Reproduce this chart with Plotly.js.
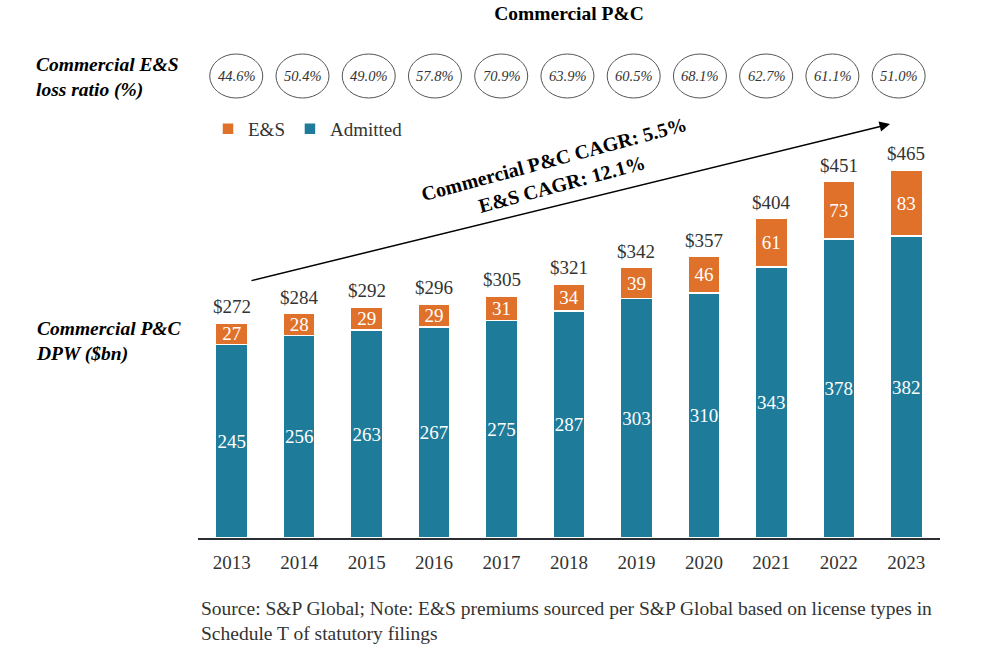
<!DOCTYPE html>
<html>
<head>
<meta charset="utf-8">
<script src="https://cdn.plot.ly/plotly-3.0.1.min.js"></script>
<style>html,body{margin:0;padding:0;background:#fff;}#chart{width:981px;height:649px;}</style>
</head>
<body>
<div id="chart"></div>
<script>
const years = ['2013','2014','2015','2016','2017','2018','2019','2020','2021','2022','2023'];
const admitted = [245, 256, 263, 267, 275, 287, 303, 310, 343, 378, 382];
const es = [27, 28, 29, 29, 31, 34, 39, 46, 61, 73, 83];
const totals = [272, 284, 292, 296, 305, 321, 342, 357, 404, 451, 465];
const lossRatio = ['44.6%','50.4%','49.0%','57.8%','70.9%','63.9%','60.5%','68.1%','62.7%','61.1%','51.0%'];

const FONT = 'Liberation Serif, Times New Roman, serif';
const TEAL = '#1F7B9A';
const ORANGE = '#E0712A';
const GREY = '#333333';

// plot-area geometry (pixels) for placing paper-referenced annotations
const L = 198, R = 41, T = 40, B = 111, W = 981, H = 649;
const px = x => (x - L) / (W - L - R);
const py = y => (H - B - y) / (H - T - B);

const traces = [
  {
    type: 'bar', name: 'Admitted', x: years, y: admitted,
    marker: {color: TEAL, line: {color: '#ffffff', width: 1.5}},
    text: admitted.map(String), textposition: 'inside', insidetextanchor: 'middle',
    textangle: 0, constraintext: 'none',
    insidetextfont: {family: FONT, size: 19, color: '#ffffff'},
    hoverinfo: 'skip'
  },
  {
    type: 'bar', name: 'E&S', x: years, y: es,
    marker: {color: ORANGE, line: {color: '#ffffff', width: 1.5}},
    text: es.map(String), textposition: 'inside', insidetextanchor: 'middle',
    textangle: 0, constraintext: 'none',
    insidetextfont: {family: FONT, size: 19, color: '#ffffff'},
    hoverinfo: 'skip'
  }
];

const annotations = [];
const shapes = [];

// totals above bars
years.forEach((yr, i) => {
  annotations.push({
    x: i, y: admitted[i] + es[i], xref: 'x', yref: 'y',
    text: '$' + totals[i], showarrow: false, xanchor: 'center', yanchor: 'bottom', yshift: 4,
    font: {family: FONT, size: 19, color: GREY}
  });
});

// loss ratio ellipses
lossRatio.forEach((lr, i) => {
  const c = i * 0.982 + 0.067;
  shapes.push({
    type: 'circle', xref: 'x', yref: 'paper',
    x0: c - 0.393, x1: c + 0.393, y0: py(98), y1: py(54),
    line: {color: '#555555', width: 1}, fillcolor: 'rgba(0,0,0,0)'
  });
  annotations.push({
    x: c, y: py(76), xref: 'x', yref: 'paper', text: '<i>' + lr + '</i>',
    showarrow: false, xanchor: 'center', yanchor: 'middle',
    font: {family: FONT, size: 14.5, color: GREY}
  });
});

// left-side labels
annotations.push({
  xref: 'paper', yref: 'paper', x: px(34), y: py(77), xanchor: 'left', yanchor: 'middle',
  text: '<b><i>Commercial E&S<br>loss ratio (%)</i></b>', align: 'left', showarrow: false,
  font: {family: FONT, size: 19.5, color: '#000000'}
});
annotations.push({
  xref: 'paper', yref: 'paper', x: px(34), y: py(341), xanchor: 'left', yanchor: 'middle',
  text: '<b><i>Commercial P&C<br>DPW ($bn)</i></b>', align: 'left', showarrow: false,
  font: {family: FONT, size: 19.5, color: '#000000'}
});

// CAGR arrow
annotations.push({
  xref: 'paper', yref: 'paper', x: px(890), y: py(124),
  ax: 250 - 890, ay: 281 - 124, axref: 'pixel', ayref: 'pixel',
  text: '', showarrow: true, arrowhead: 2, arrowsize: 1.4, arrowwidth: 1.5, arrowcolor: '#000000'
});
annotations.push({
  xref: 'paper', yref: 'paper', x: px(554), y: py(159), xanchor: 'center', yanchor: 'middle',
  text: '<b>Commercial P&C CAGR: 5.5%</b>', textangle: -15, showarrow: false,
  font: {family: FONT, size: 20, color: '#000000'}
});
annotations.push({
  xref: 'paper', yref: 'paper', x: px(562), y: py(184), xanchor: 'center', yanchor: 'middle',
  text: '<b>E&S CAGR: 12.1%</b>', textangle: -15, showarrow: false,
  font: {family: FONT, size: 20, color: '#000000'}
});

// footer note
annotations.push({
  xref: 'paper', yref: 'paper', x: px(199), y: py(621), xanchor: 'left', yanchor: 'middle',
  text: 'Source: S&P Global; Note: E&S premiums sourced per S&P Global based on license types in<br>Schedule T of statutory filings',
  align: 'left', showarrow: false,
  font: {family: FONT, size: 19.5, color: GREY}
});

const layout = {
  width: W, height: H,
  margin: {l: L, r: R, t: T, b: B, pad: 0},
  paper_bgcolor: '#ffffff', plot_bgcolor: '#ffffff',
  barmode: 'stack', bargap: 0.525,
  title: {
    text: '<b>Commercial P&C</b>', x: 569 / W, xref: 'container', xanchor: 'center',
    y: 1 - 13 / H, yref: 'container', yanchor: 'middle',
    font: {family: FONT, size: 19.5, color: '#000000'}
  },
  font: {family: FONT, color: GREY},
  showlegend: true,
  legend: {
    orientation: 'h', traceorder: 'reversed', x: px(208), y: py(129),
    xanchor: 'left', yanchor: 'middle', bgcolor: 'rgba(0,0,0,0)',
    font: {family: FONT, size: 19, color: GREY}
  },
  xaxis: {
    type: 'category', range: [-0.5, 10.5], showgrid: false, zeroline: false,
    showline: true, linecolor: '#2b2f33', linewidth: 2, ticks: '',
    tickfont: {family: FONT, size: 19, color: GREY}, ticklabelstandoff: 6, fixedrange: true
  },
  yaxis: {
    range: [0, 630], visible: false, showgrid: false, zeroline: false, fixedrange: true
  },
  shapes: shapes,
  annotations: annotations
};

Plotly.newPlot('chart', traces, layout, {displayModeBar: false, staticPlot: true});
</script>
</body>
</html>
